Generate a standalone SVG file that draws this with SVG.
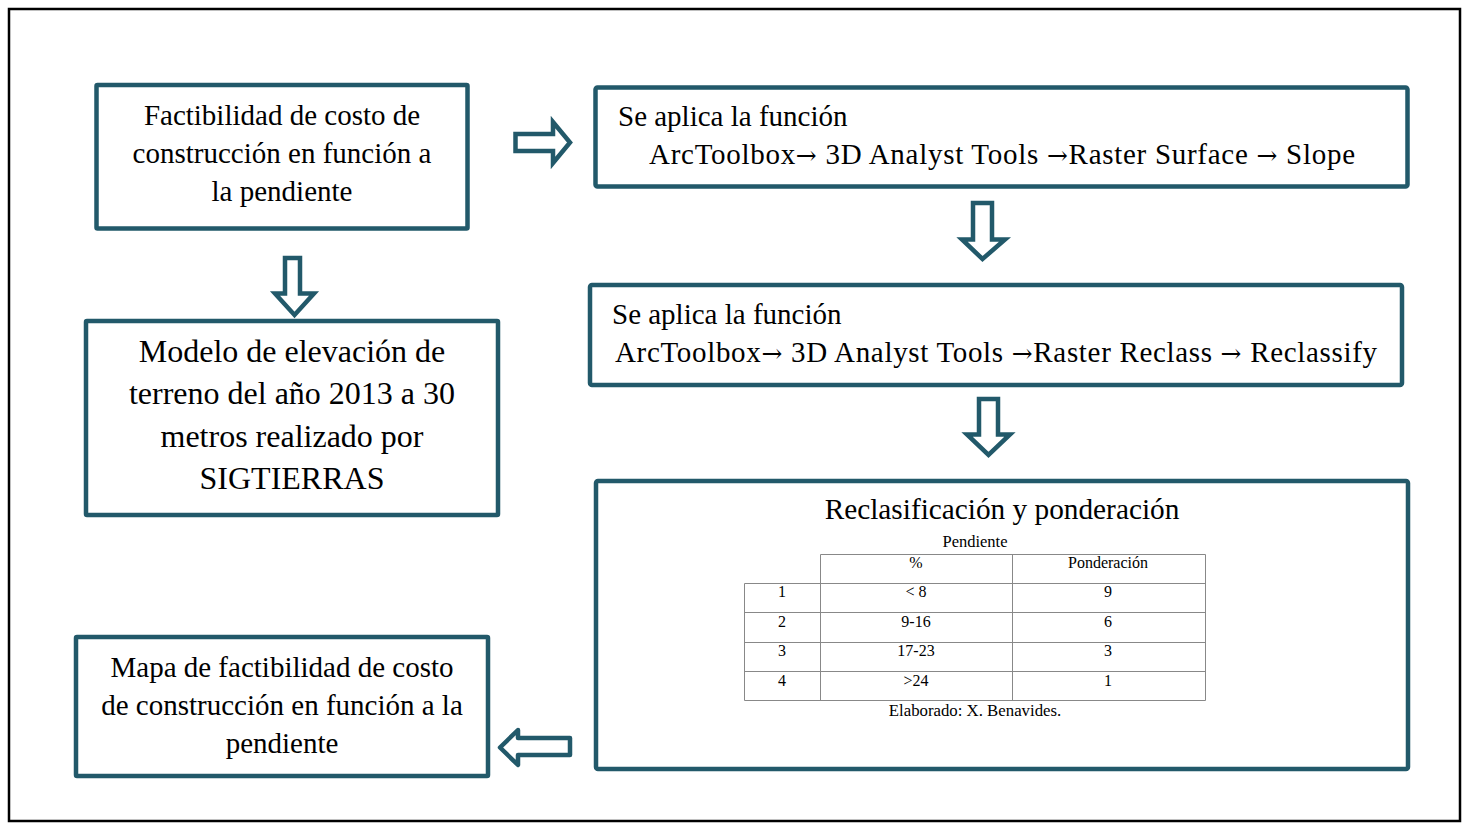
<svg xmlns="http://www.w3.org/2000/svg" width="1467" height="824" viewBox="0 0 1467 824">
<style>
.box{fill:#fff;stroke:#22596a;stroke-width:4.5}
.arr{fill:#fff;stroke:#22596a;stroke-width:4.5;stroke-linejoin:miter}
.t{font-family:"Liberation Serif","Times New Roman",serif;fill:#000}
.ar{font-family:"DejaVu Serif",serif;font-size:25px}
.tl{stroke:#888;stroke-width:1;fill:none}
</style>
<rect x="9" y="9" width="1451" height="812" fill="#fff" stroke="#000" stroke-width="2.5"/>
<g id="connectors">
<path class="arr" d="M515.5,134 H553 V122 L570,142.5 L553,163 V151 H515.5 Z"/>
<path class="arr" d="M285,258 H300 V293.5 H314 L294.5,315 L275,293.5 H285 Z"/>
<path class="arr" d="M973,203 H992 V239.5 H1005 L982.5,259 L962,239.5 H973 Z"/>
<path class="arr" d="M979,399 H998 V434.5 H1010 L988.5,455 L967,434.5 H979 Z"/>
<path class="arr" style="stroke-linejoin:round" d="M570,738 H518 V730 L500,747.5 L518,765 V755 H570 Z"/>
</g>
<g id="n1">
<rect class="box" x="96.5" y="85" width="371" height="143.5" rx="1"/>
<text class="t" font-size="29" text-anchor="middle"><tspan x="282" y="125">Factibilidad de costo de</tspan><tspan x="282" y="163">construcción en función a</tspan><tspan x="282" y="201">la pendiente</tspan></text>
</g>
<g id="n2">
<rect class="box" x="595.5" y="87.5" width="812" height="99" rx="2"/>
<text class="t" font-size="29" x="618" y="126">Se aplica la función</text>
<text class="t" font-size="29" x="649" y="164" textLength="706" lengthAdjust="spacing">ArcToolbox<tspan class="ar">→</tspan> 3D Analyst Tools <tspan class="ar">→</tspan>Raster Surface <tspan class="ar">→</tspan> Slope</text>
</g>
<g id="n3">
<rect class="box" x="590" y="285" width="812" height="100" rx="2"/>
<text class="t" font-size="29" x="612" y="324">Se aplica la función</text>
<text class="t" font-size="29" x="615" y="362" textLength="762" lengthAdjust="spacing">ArcToolbox<tspan class="ar">→</tspan> 3D Analyst Tools <tspan class="ar">→</tspan>Raster Reclass <tspan class="ar">→</tspan> Reclassify</text>
</g>
<g id="n4">
<rect class="box" x="86" y="321" width="412" height="194" rx="1"/>
<text class="t" font-size="32" text-anchor="middle"><tspan x="292" y="362">Modelo de elevación de</tspan><tspan x="292" y="404">terreno del año 2013 a 30</tspan><tspan x="292" y="447">metros realizado por</tspan><tspan x="292" y="489">SIGTIERRAS</tspan></text>
</g>
<g id="n5">
<rect class="box" x="596" y="481" width="812" height="288" rx="2"/>
<text class="t" font-size="29.3" text-anchor="middle" x="1002" y="519">Reclasificación y ponderación</text>
<text class="t" font-size="16.5" text-anchor="middle" x="975" y="547">Pendiente</text>
<path class="tl" d="M820.5,554.5 H1205.5 M744.5,583.5 H1205.5 M744.5,612.5 H1205.5 M744.5,642.5 H1205.5 M744.5,671.5 H1205.5 M744.5,700.5 H1205.5 M744.5,583.5 V700.5 M820.5,554.5 V700.5 M1012.5,554.5 V700.5 M1205.5,554.5 V700.5"/>
<g class="t" font-size="16" text-anchor="middle">
<text x="916" y="568">%</text><text x="1108" y="568">Ponderación</text>
<text x="782" y="597">1</text><text x="916" y="597">&lt; 8</text><text x="1108" y="597">9</text>
<text x="782" y="627">2</text><text x="916" y="627">9-16</text><text x="1108" y="627">6</text>
<text x="782" y="656">3</text><text x="916" y="656">17-23</text><text x="1108" y="656">3</text>
<text x="782" y="686">4</text><text x="916" y="686">&gt;24</text><text x="1108" y="686">1</text>
</g>
<text class="t" font-size="16.8" text-anchor="middle" x="975" y="716">Elaborado: X. Benavides.</text>
</g>
<g id="n6">
<rect class="box" x="76" y="637" width="412" height="139" rx="1"/>
<text class="t" font-size="29" text-anchor="middle"><tspan x="282" y="677">Mapa de factibilidad de costo</tspan><tspan x="282" y="715">de construcción en función a la</tspan><tspan x="282" y="753">pendiente</tspan></text>
</g>
</svg>
